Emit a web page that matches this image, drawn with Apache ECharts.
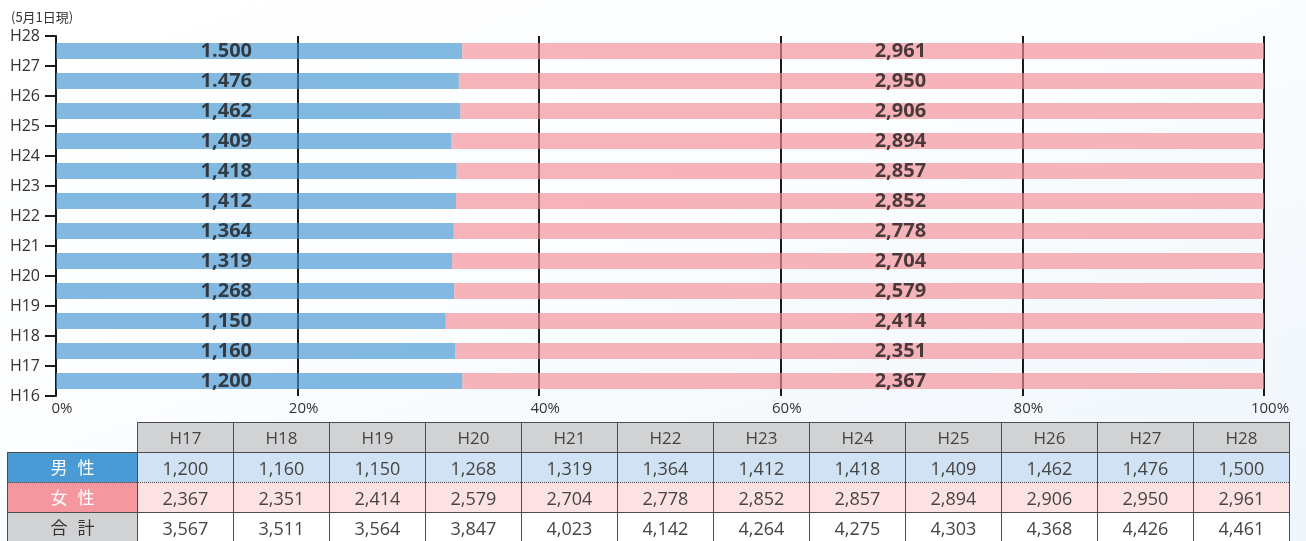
<!DOCTYPE html>
<html>
<head>
<meta charset="utf-8">
<script src="https://cdn.jsdelivr.net/npm/echarts@6/dist/echarts.min.js"></script>
<style>
  html, body { margin: 0; padding: 0; }
  body { width: 1306px; height: 541px; overflow: hidden; position: relative;
         background: linear-gradient(160deg, #ffffff 0%, #fbfdff 45%, #eef5fb 100%);
         font-family: "Open Sans", "Noto Sans CJK JP", sans-serif; }
  #chart { position: absolute; left: 0; top: 0; width: 1306px; height: 541px; }
  #tbl { position: absolute; left: 7px; top: 422px; border-collapse: collapse; table-layout: fixed;
         font-family: "Open Sans", "Noto Sans CJK JP", sans-serif; color: #444; }
  #tbl td { border: 1px solid #4d4d4d; text-align: center; padding: 0; font-size: 18px; line-height: 20px; }
  #tbl tr.h td { height: 29px; background: #d1d2d4; font-size: 17px; }
  #tbl tr.h td.blank { background: transparent; border: none; border-right: 1px solid #4d4d4d; border-bottom: 1px solid #4d4d4d; }
  #tbl tr.m td { height: 29px; background: #d0e2f4; border-bottom: 1px dotted #4d4d4d; }
  #tbl tr.m td.lab { background: #4a9bd5; color: #fff; letter-spacing: 10px; padding-left: 10px; font-size: 17px; }
  #tbl tr.f td { height: 29px; background: #fde2e3; border-top: 1px dotted #4d4d4d; }
  #tbl tr.f td.lab { background: #f4979e; color: #fff; letter-spacing: 10px; padding-left: 10px; font-size: 17px; }
  #tbl tr.t td { height: 29px; background: #ffffff; }
  #tbl tr.t td.lab { background: #d1d2d4; color: #333; letter-spacing: 10px; padding-left: 10px; font-size: 17px; }
</style>
</head>
<body>
<div id="chart"></div>
<table id="tbl"></table>
<script>
// ---- data ----
const barCategories = ['H17','H18','H19','H20','H21','H22','H23','H24','H25','H26','H27','H28'];
const axisTickLabels = ['H16','H17','H18','H19','H20','H21','H22','H23','H24','H25','H26','H27','H28'];
const male   = [1200, 1160, 1150, 1268, 1319, 1364, 1412, 1418, 1409, 1462, 1476, 1500];
const female = [2367, 2351, 2414, 2579, 2704, 2778, 2852, 2857, 2894, 2906, 2950, 2961];
const total  = [3567, 3511, 3564, 3847, 4023, 4142, 4264, 4275, 4303, 4368, 4426, 4461];
const maleBarLabels   = ['1,200','1,160','1,150','1,268','1,319','1,364','1,412','1,418','1,409','1,462','1.476','1.500'];
const femaleBarLabels = ['2,367','2,351','2,414','2,579','2,704','2,778','2,852','2,857','2,894','2,906','2,950','2,961'];
const xTickLabels = ['0%','20%','40%','60%','80%','100%'];
const rowNames = ['男性','女性','合計'];
const note = '(5月1日現)';

// ---- derived shares ----
const malePct = male.map((m, i) => m / (m + female[i]) * 100);
const femalePct = female.map((f, i) => f / (male[i] + f) * 100);
const fmt = v => v.toLocaleString('en-US');

const chart = echarts.init(document.getElementById('chart'), null, { renderer: 'canvas' });
const labelStyle = { show: true, position: 'inside', color: '#1e1a1b', fontSize: 20, fontWeight: 'bold',
                     fontFamily: 'Open Sans' };
chart.setOption({
  animation: false,
  backgroundColor: 'transparent',
  title: { text: note, left: 6, top: 6, textStyle: { fontSize: 13, fontWeight: 'normal', color: '#333',
           fontFamily: 'Noto Sans CJK JP' } },
  grid: { left: 56, right: 42, top: 36, bottom: 145, containLabel: false },
  xAxis: {
    type: 'value', min: 0, max: 100, interval: 20,
    axisLine: { show: false }, axisTick: { show: false },
    axisLabel: { formatter: v => xTickLabels[Math.round(v / 20)], color: '#333', fontSize: 15,
                 fontFamily: 'Open Sans', margin: 5, padding: [0, 0, 0, 12] },
    splitLine: { show: true, lineStyle: { color: '#1a1a1a', width: 2 } }
  },
  yAxis: [
    { type: 'category', data: barCategories, position: 'right', show: false },
    { type: 'category', data: axisTickLabels, boundaryGap: false, position: 'left',
      axisLine: { show: true, lineStyle: { color: '#1a1a1a', width: 2 } },
      axisTick: { show: true, length: 11, lineStyle: { color: '#1a1a1a', width: 2 } },
      axisLabel: { color: '#333', fontSize: 16, fontFamily: 'Open Sans', margin: 16 },
      splitLine: { show: false } }
  ],
  series: [
    { type: 'bar', name: '男性', stack: 's', yAxisIndex: 0, data: malePct, barWidth: 16,
      itemStyle: { color: 'rgb(64,147,209)', opacity: 0.65 }, z: 3 },
    { type: 'bar', name: '女性', stack: 's', yAxisIndex: 0, data: femalePct, barWidth: 16,
      itemStyle: { color: 'rgb(243,141,149)', opacity: 0.65 }, z: 3 },
    { type: 'scatter', yAxisIndex: 0, symbolSize: 0, z: 5,
      data: barCategories.map((c, i) => [14.1, c]),
      label: Object.assign({}, labelStyle, { formatter: p => maleBarLabels[p.dataIndex] }) },
    { type: 'scatter', yAxisIndex: 0, symbolSize: 0, z: 5,
      data: barCategories.map((c, i) => [69.9, c]),
      label: Object.assign({}, labelStyle, { formatter: p => femaleBarLabels[p.dataIndex] }) }
  ]
});

// ---- table ----
const tbl = document.getElementById('tbl');
let html = '<colgroup><col style="width:130px">' + barCategories.map(() => '<col style="width:96px">').join('') + '</colgroup>';
html += '<tr class="h"><td class="blank"></td>' + barCategories.map(c => '<td>' + c + '</td>').join('') + '</tr>';
const rows = [['m', male], ['f', female], ['t', total]];
rows.forEach(([cls, arr], r) => {
  html += '<tr class="' + cls + '"><td class="lab">' + rowNames[r] + '</td>' + arr.map(v => '<td>' + fmt(v) + '</td>').join('') + '</tr>';
});
tbl.innerHTML = html;
</script>
</body>
</html>
